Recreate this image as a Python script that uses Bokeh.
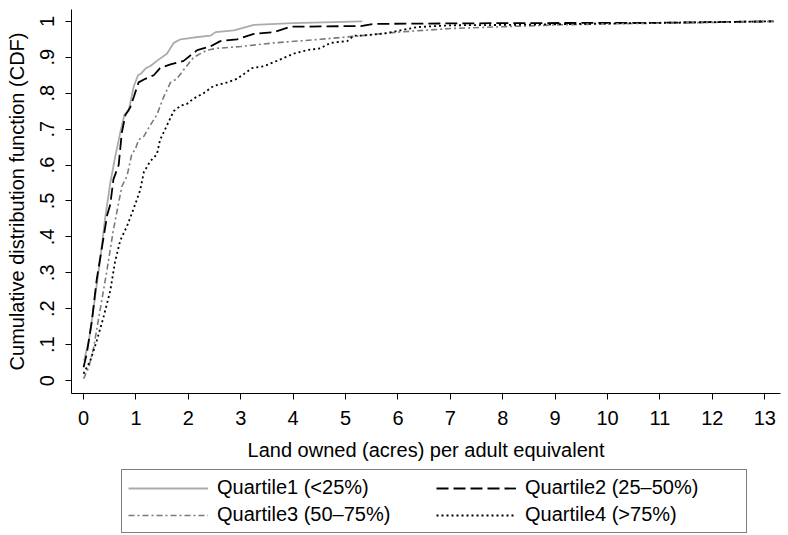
from bokeh.plotting import figure
from bokeh.layouts import column
from bokeh.models import Range1d, FixedTicker, Legend, LegendItem
from bokeh.embed import file_html
from bokeh.resources import INLINE

# ---- data ----
q1_x = [0.01, 0.1, 0.19, 0.32, 0.41, 0.51, 0.6, 0.7, 0.78, 0.86, 0.96, 1.04, 1.1, 1.19, 1.27, 1.4,
        1.59, 1.72, 1.85, 2.1, 2.42, 2.52, 2.87, 3.25, 4.0, 5.32]
q1_y = [0.056, 0.11, 0.2, 0.34, 0.45, 0.55, 0.62, 0.69, 0.74, 0.75, 0.82, 0.85, 0.855, 0.87, 0.875, 0.89,
        0.91, 0.94, 0.95, 0.955, 0.96, 0.97, 0.975, 0.99, 0.995, 1.0]

q2_x = [0.0, 0.06, 0.16, 0.25, 0.35, 0.45, 0.51, 0.57, 0.67, 0.73, 0.8, 0.89, 0.96, 1.05, 1.18, 1.34,
        1.46, 1.66, 1.91, 2.17, 2.42, 2.61, 2.93, 3.25, 3.63, 3.95, 5.29, 5.53, 8.0, 11.0, 13.17]
q2_y = [0.037, 0.074, 0.167, 0.28, 0.37, 0.46, 0.49, 0.56, 0.6, 0.69, 0.74, 0.76, 0.79, 0.83, 0.84, 0.85,
        0.87, 0.88, 0.89, 0.92, 0.93, 0.945, 0.95, 0.965, 0.97, 0.985, 0.987, 0.993, 0.995, 0.996, 1.0]

q3_x = [0.0, 0.1, 0.19, 0.32, 0.45, 0.57, 0.73, 0.83, 0.92, 0.99, 1.05, 1.15, 1.27, 1.4, 1.53, 1.66,
        1.78, 1.91, 2.1, 2.36, 2.55, 3.0, 3.63, 4.52, 5.29, 6.0, 7.0, 8.0, 9.0, 10.0, 11.0, 12.0, 13.17]
q3_y = [0.005, 0.037, 0.09, 0.2, 0.31, 0.42, 0.54, 0.57, 0.63, 0.645, 0.67, 0.68, 0.71, 0.74, 0.79, 0.83,
        0.84, 0.865, 0.9, 0.92, 0.925, 0.93, 0.94, 0.95, 0.96, 0.97, 0.98, 0.985, 0.99, 0.993, 0.995, 0.997, 1.0]

q4_x = [0.0, 0.13, 0.25, 0.38, 0.51, 0.6, 0.7, 0.83, 0.96, 1.08, 1.15, 1.27, 1.4, 1.46, 1.59, 1.72,
        1.85, 1.97, 2.1, 2.29, 2.48, 2.74, 2.93, 3.22, 3.44, 3.69, 4.01, 4.27, 4.52, 4.71, 5.03, 5.16,
        5.29, 5.73, 6.37, 7.0, 8.0, 9.0, 10.0, 11.0, 12.0, 13.17]
q4_y = [0.019, 0.056, 0.11, 0.176, 0.25, 0.33, 0.39, 0.43, 0.48, 0.53, 0.58, 0.61, 0.63, 0.67, 0.71, 0.75,
        0.765, 0.77, 0.785, 0.8, 0.82, 0.83, 0.84, 0.87, 0.875, 0.89, 0.91, 0.92, 0.925, 0.94, 0.945, 0.96,
        0.96, 0.966, 0.984, 0.989, 0.99, 0.992, 0.994, 0.996, 0.998, 1.0]

series_labels = ["Quartile1 (<25%)", "Quartile2 (25\u201350%)", "Quartile3 (50\u201375%)", "Quartile4 (>75%)"]

x_ticks = list(range(0, 14))
y_ticks = [0, 0.1, 0.2, 0.3, 0.4, 0.5, 0.6, 0.7, 0.8, 0.9, 1]
y_tick_labels = ["0", ".1", ".2", ".3", ".4", ".5", ".6", ".7", ".8", ".9", "1"]

FONT = "Liberation Sans"
series_x = [q1_x, q2_x, q3_x, q4_x]
series_y = [q1_y, q2_y, q3_y, q4_y]
styles = [dict(line_color="#ababab", line_width=1.8),
          dict(line_color="black", line_width=1.8, line_dash="12 5"),
          dict(line_color="#7a7a7a", line_width=1.6, line_dash="6 3 2 3"),
          dict(line_color="black", line_width=1.8, line_dash="2 3")]

MAIN_H = 468
p = figure(width=788, height=MAIN_H, output_backend="svg", toolbar_location=None,
           x_range=Range1d(-0.23, 13.3), y_range=Range1d(-0.036, 1.033),
           min_border_left=71, min_border_right=8, min_border_top=9, min_border_bottom=75)
p.outline_line_color = None
p.grid.visible = False
p.background_fill_color = "white"
p.border_fill_color = "white"

for xs, ys, st in zip(series_x, series_y, styles):
    p.line(xs, ys, **st)

xa = p.xaxis[0]
xa.ticker = FixedTicker(ticks=x_ticks)
xa.axis_label = "Land owned (acres) per adult equivalent"
ya = p.yaxis[0]
ya.ticker = FixedTicker(ticks=y_ticks)
ya.major_label_overrides = dict(zip(y_ticks, y_tick_labels))
ya.major_label_orientation = "vertical"
ya.axis_label = "Cumulative distribution function (CDF)"

for ax in (xa, ya):
    ax.minor_tick_line_color = None
    ax.axis_line_color = "black"
    ax.major_tick_line_color = "black"
    ax.major_tick_out = 6
    ax.major_tick_in = 0
    ax.major_label_text_font = FONT
    ax.major_label_text_font_size = "20px"
    ax.major_label_text_color = "black"
    ax.axis_label_text_font = FONT
    ax.axis_label_text_font_size = "20px"
    ax.axis_label_text_font_style = "normal"
    ax.axis_label_text_color = "black"

xa.major_label_standoff = 11
xa.axis_label_standoff = 11
ya.major_label_standoff = 11
ya.axis_label_standoff = 10

# legend panel: a second, axis-less strip below the chart
lf = figure(width=788, height=535 - MAIN_H, output_backend="svg", toolbar_location=None,
            x_range=Range1d(100, 101), y_range=Range1d(100, 101),
            x_axis_type=None, y_axis_type=None,
            min_border_left=0, min_border_right=0, min_border_top=0, min_border_bottom=0)
lf.outline_line_color = None
lf.grid.visible = False
legend_renderers = [lf.line(xs, ys, **st) for xs, ys, st in zip(series_x, series_y, styles)]

legend = Legend(items=[LegendItem(label=lab, renderers=[r]) for lab, r in zip(series_labels, legend_renderers)],
                orientation="horizontal", ncols=2,
                location=(50, 2),
                label_text_font=FONT, label_text_font_size="20px", label_text_color="black",
                glyph_width=80, glyph_height=16, label_height=16, label_width=215,
                label_standoff=9, spacing=4, padding=6, margin=0,
                border_line_color="black", border_line_width=1,
                background_fill_alpha=1.0)
lf.add_layout(legend, "center")

layout = column(p, lf, spacing=0)
open("out.html", "w").write(file_html(layout, INLINE))
